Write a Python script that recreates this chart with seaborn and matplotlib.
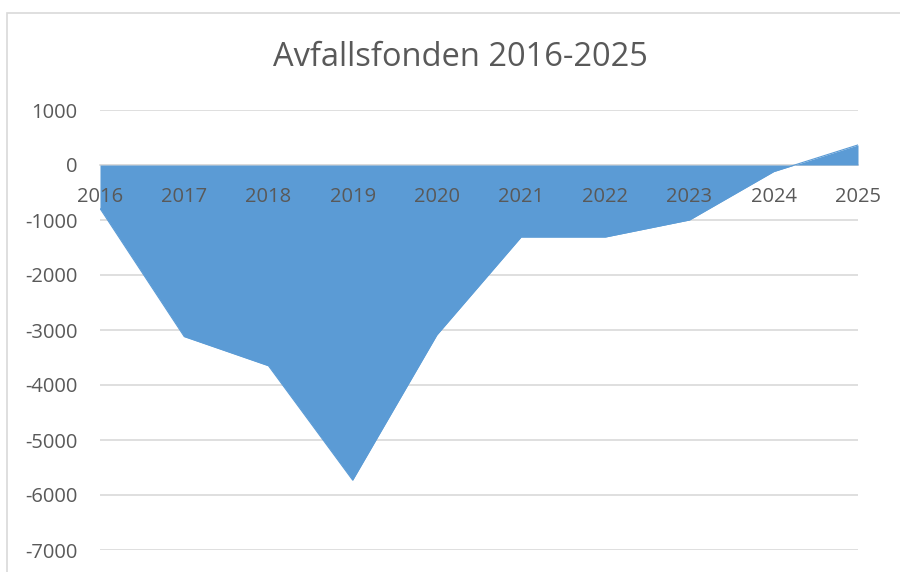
import matplotlib
matplotlib.use("Agg")
import matplotlib.pyplot as plt
import seaborn as sns
import pandas as pd
from matplotlib.patches import Rectangle

years = [2016, 2017, 2018, 2019, 2020, 2021, 2022, 2023, 2024, 2025]
values = [-790, -3120, -3650, -5730, -3090, -1310, -1310, -1000, -120, 365]
y_ticks = [1000, 0, -1000, -2000, -3000, -4000, -5000, -6000, -7000]
title = "Avfallsfonden 2016-2025"

df = pd.DataFrame({"year": years, "value": values})

sns.set_style("white")
plt.rcParams['font.family'] = ['Open Sans', 'DejaVu Sans']

text_col = "#595959"
fill_col = "#5B9BD5"
grid_col = "#D9D9D9"

fig = plt.figure(figsize=(9, 5.72), dpi=100)
ax = fig.add_axes([100 / 900, 1 - 550 / 572, 758 / 900, 440 / 572])
ax.set_axisbelow(False)

# chart border
fig.patches.append(Rectangle((7 / 900, -0.1), 1.2, 1 - 13 / 572 + 0.1,
                             transform=fig.transFigure, fill=False,
                             edgecolor=grid_col, linewidth=1.2))

for t in y_ticks:
    ax.axhline(t, color=grid_col, linewidth=1.2, zorder=0)

ax.fill_between(df["year"], df["value"], 0, color=fill_col, linewidth=0, zorder=1.5)
sns.lineplot(data=df, x="year", y="value", color=fill_col, linewidth=0.8, ax=ax, zorder=1.6)

ax.set_xlim(2016, 2025)
ax.set_ylim(-7000, 1000)
ax.set_yticks(y_ticks)
ax.set_yticklabels([str(t) for t in y_ticks])
ax.set_xticks(years)
ax.set_xticklabels([str(y) for y in years])
ax.set_xlabel("")
ax.set_ylabel("")

for s in ["top", "right", "left"]:
    ax.spines[s].set_visible(False)
ax.spines["bottom"].set_position(("data", 0))
ax.spines["bottom"].set_color(grid_col)
ax.spines["bottom"].set_linewidth(1.2)
ax.spines["bottom"].set_zorder(1)

ax.tick_params(axis="x", length=0, pad=16, labelsize=14.5, labelcolor=text_col)
ax.tick_params(axis="y", length=0, pad=16, labelsize=14.5, labelcolor=text_col)

fig.text(460 / 900, 1 - 57 / 572, title, ha="center", va="center",
         fontsize=23.5, color=text_col)

fig.savefig("out.png", dpi=100)
